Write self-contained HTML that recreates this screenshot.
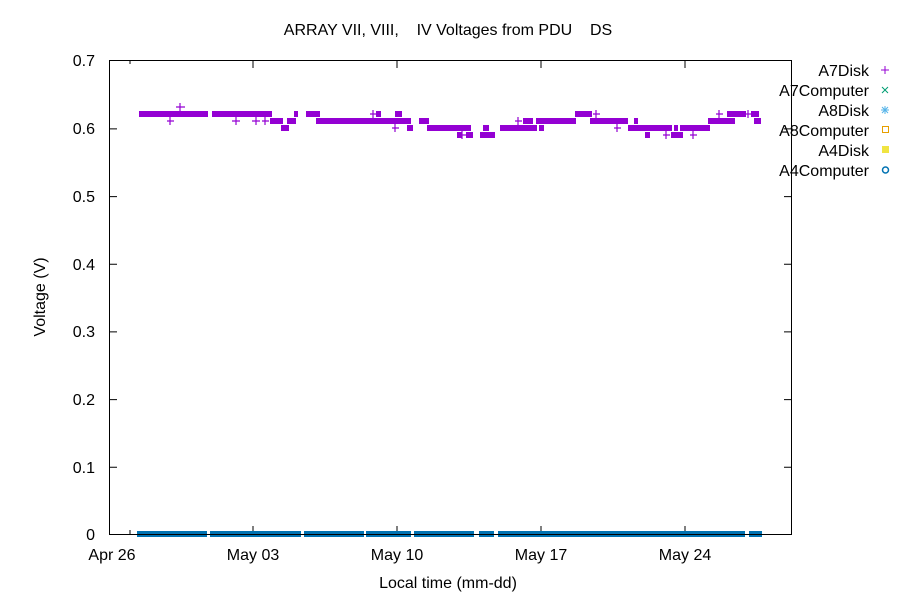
<!DOCTYPE html>
<html><head><style>body{margin:0;background:#fff}svg{display:block}text{font-family:"Liberation Sans",sans-serif;font-size:16px;fill:#000;white-space:pre}</style></head><body>
<svg width="900" height="600" xmlns="http://www.w3.org/2000/svg">
<rect width="900" height="600" fill="#fff"/>
<text x="448" y="35" text-anchor="middle" xml:space="preserve">ARRAY VII, VIII,    IV Voltages from PDU    DS</text>
<g stroke="#000" stroke-width="1" fill="none">
<rect x="109.5" y="60.5" width="682" height="474"/>
<path d="M109 467.3h8M792 467.3h-8M109 399.6h8M792 399.6h-8M109 331.9h8M792 331.9h-8M109 264.3h8M792 264.3h-8M109 196.6h8M792 196.6h-8M109 128.9h8M792 128.9h-8M253 534v-8M253 60v8M397 534v-8M397 60v8M541 534v-8M541 60v8M685 534v-8M685 60v8M130 534v-4M130 60v4"/>
</g>
<g text-anchor="end">
<text x="95" y="540">0</text><text x="95" y="473">0.1</text><text x="95" y="405">0.2</text><text x="95" y="337">0.3</text><text x="95" y="270">0.4</text><text x="95" y="202">0.5</text><text x="95" y="134">0.6</text><text x="95" y="66">0.7</text>
</g>
<g text-anchor="middle">
<text x="112" y="560">Apr 26</text><text x="253" y="560">May 03</text><text x="397" y="560">May 10</text><text x="541" y="560">May 17</text><text x="685" y="560">May 24</text>
<text x="448" y="588">Local time (mm-dd)</text>
</g>
<text transform="translate(45,297) rotate(-90)" text-anchor="middle">Voltage (V)</text>
<g fill="#9400d3">
<rect x="139" y="111" width="69" height="6"/><rect x="212" y="111" width="60" height="6"/><rect x="294" y="111" width="4" height="6"/><rect x="306" y="111" width="14" height="6"/><rect x="376" y="111" width="5" height="6"/><rect x="395" y="111" width="7" height="6"/>
<rect x="270" y="118" width="13" height="6"/><rect x="287" y="118" width="9" height="6"/><rect x="316" y="118" width="49" height="6"/><rect x="365" y="118" width="46" height="6"/><rect x="419" y="118" width="10" height="6"/>
<rect x="281" y="125" width="8" height="6"/><rect x="407" y="125" width="6" height="6"/><rect x="427" y="125" width="44" height="6"/>
<rect x="457" y="132" width="5" height="6"/><rect x="466" y="132" width="7" height="6"/><rect x="480" y="132" width="15" height="6"/>
<rect x="483" y="125" width="6" height="6"/><rect x="500" y="125" width="37" height="6"/><rect x="539" y="125" width="5" height="6"/>
<rect x="523" y="118" width="10" height="6"/><rect x="536" y="118" width="40" height="6"/><rect x="590" y="118" width="38" height="6"/><rect x="634" y="118" width="4" height="6"/>
<rect x="575" y="111" width="17" height="6"/>
<rect x="628" y="125" width="44" height="6"/><rect x="674" y="125" width="4" height="6"/><rect x="680" y="125" width="30" height="6"/>
<rect x="645" y="132" width="5" height="6"/><rect x="671" y="132" width="12" height="6"/>
<rect x="708" y="118" width="27" height="6"/><rect x="754" y="118" width="7" height="6"/>
<rect x="727" y="111" width="19" height="6"/><rect x="751" y="111" width="8" height="6"/>
</g>
<g stroke="#9400d3" stroke-width="1.2">
<path d="M176 107h9M180 103v9M167 121h7M170 117v8M232 121h8M236 117v8M252 121h8M256 117v8M262 121h7M265 117v8M370 114h7M373 110v8M392 128h7M395 124v8M459 135h7M462 131v8M515 121h7M518 117v8M593 114h7M596 110v8M614 128h7M617 124v8M690 135h7M693 131v8M716 114h7M719 110v8M745 114h7M748 110v8M663 135h7M666 131v8"/>
</g>
<g fill="#0072b2">
<rect x="137" y="531" width="70" height="6"/><rect x="210" y="531" width="91" height="6"/><rect x="304" y="531" width="60" height="6"/><rect x="366" y="531" width="45" height="6"/><rect x="414" y="531" width="60" height="6"/><rect x="479" y="531" width="15" height="6"/><rect x="498" y="531" width="247" height="6"/><rect x="749" y="531" width="13" height="6"/>
</g>
<path d="M137 534.5H762" stroke="#000" stroke-width="1"/>
<g text-anchor="end">
<text x="869" y="76">A7Disk</text><text x="869" y="96">A7Computer</text><text x="869" y="116">A8Disk</text><text x="869" y="136">A8Computer</text><text x="869" y="156">A4Disk</text><text x="869" y="176">A4Computer</text>
</g>
<g stroke-width="1" fill="none">
<path d="M881 70h8M885 66v8" stroke="#9400d3"/>
<path d="M882 87l6 6M888 87l-6 6" stroke="#009e73"/>
<path d="M881 110h8M885 106v8M882 107l6 6M888 107l-6 6" stroke="#56b4e9"/>
<rect x="882.5" y="126.5" width="6" height="6" stroke="#e69f00"/>
<rect x="882" y="146" width="7" height="7" fill="#f0e442" stroke="none"/>
<circle cx="885.5" cy="170" r="3" stroke="#0072b2" stroke-width="1.5"/>
</g>
</svg>
</body></html>
